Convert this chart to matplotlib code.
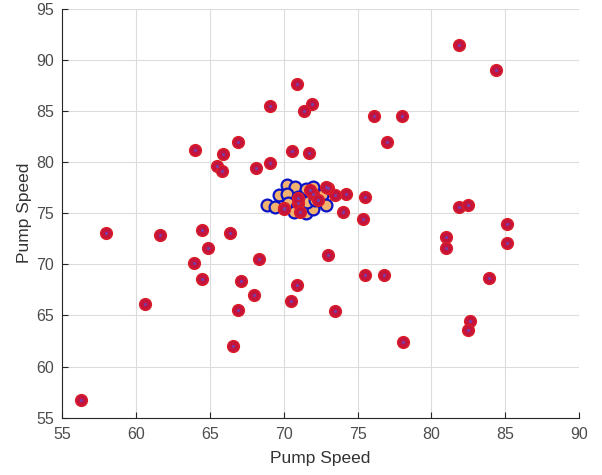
import numpy as np
import matplotlib.pyplot as plt

plt.rcParams['font.family'] = ['Liberation Sans', 'DejaVu Sans']

# red points (scattered readings)
red_x = [70.9, 69.1, 64.0, 66.9, 65.9, 65.5, 65.8, 68.1, 69.1, 70.6,
         58.0, 61.6, 64.5, 66.4, 70.0, 81.9, 84.4, 76.1, 78.0, 77.0,
         71.7, 71.9, 71.4, 75.5, 74.2, 73.5, 74.0, 75.4, 73.0, 81.9,
         82.5, 85.1, 81.0, 85.1, 81.0, 73.0, 75.5, 76.8, 83.9, 73.5,
         82.6, 82.5, 78.1, 64.9, 63.9, 68.3, 64.5, 67.1, 70.9, 68.0,
         70.5, 60.6, 66.9, 66.6, 56.3,
         70.0, 71.0, 71.1, 71.0, 72.0, 72.3, 72.9, 71.8]
red_y = [87.6, 85.5, 81.2, 82.0, 80.8, 79.6, 79.1, 79.4, 79.9, 81.1,
         73.1, 72.9, 73.4, 73.1, 75.5, 91.5, 89.0, 84.5, 84.5, 82.0,
         80.9, 85.7, 85.0, 76.6, 76.9, 76.8, 75.1, 74.4, 77.5, 75.6,
         75.8, 73.9, 72.7, 72.1, 71.6, 70.9, 69.0, 69.0, 68.7, 65.4,
         64.5, 63.6, 62.4, 71.6, 70.1, 70.5, 68.6, 68.4, 68.0, 67.0,
         66.4, 66.1, 65.5, 62.0, 56.7,
         75.4, 76.0, 75.1, 76.5, 76.9, 76.3, 77.6, 77.3]

# blue points (tight cluster)
blue_x = [68.9, 70.2, 70.8, 69.7, 70.2, 71.5, 72.0, 72.6, 72.9,
          69.4, 70.3, 70.9, 71.5, 72.0, 71.6, 72.1, 71.0, 70.7]
blue_y = [75.8, 77.8, 77.6, 76.8, 76.9, 77.4, 77.6, 76.8, 75.8,
          75.6, 76.0, 75.6, 75.0, 75.4, 76.1, 76.3, 76.6, 75.1]

fig = plt.figure(figsize=(6.02, 4.75), dpi=100)
ax = fig.add_axes([0.103, 0.1206, 0.859, 0.861])

ax.plot(blue_x, blue_y, 'o', ms=8.5, mfc='#F2B36E', mec='#0A12C8', mew=1.6, ls='none')
ax.plot(red_x, red_y, 'o', ms=8.5, mfc='#C4143C', mec='#DC1E28', mew=1.0, ls='none')
ax.plot(red_x, red_y, '.', ms=2.5, color='#7A3CA8', ls='none')

ax.set_xlim(55, 90)
ax.set_ylim(55, 95)
ax.set_xticks(np.arange(55, 91, 5))
ax.set_yticks(np.arange(55, 96, 5))
ax.grid(True, color='#DCDCDC', lw=0.8)
ax.set_axisbelow(True)

for s in ['top', 'right']:
    ax.spines[s].set_visible(False)
for s in ['left', 'bottom']:
    ax.spines[s].set_color('#262626')
    ax.spines[s].set_linewidth(0.8)
ax.tick_params(direction='in', length=4, width=0.8, colors='#262626',
               labelcolor='#4D4D4D', labelsize=11.5)
ax.tick_params(axis='x', pad=7)
ax.tick_params(axis='y', pad=6)

ax.set_xlabel('Pump Speed', fontsize=12.5, color='#333333', labelpad=6)
ax.set_ylabel('Pump Speed', fontsize=12.5, color='#333333', labelpad=3)

plt.savefig('out.png', dpi=100)
